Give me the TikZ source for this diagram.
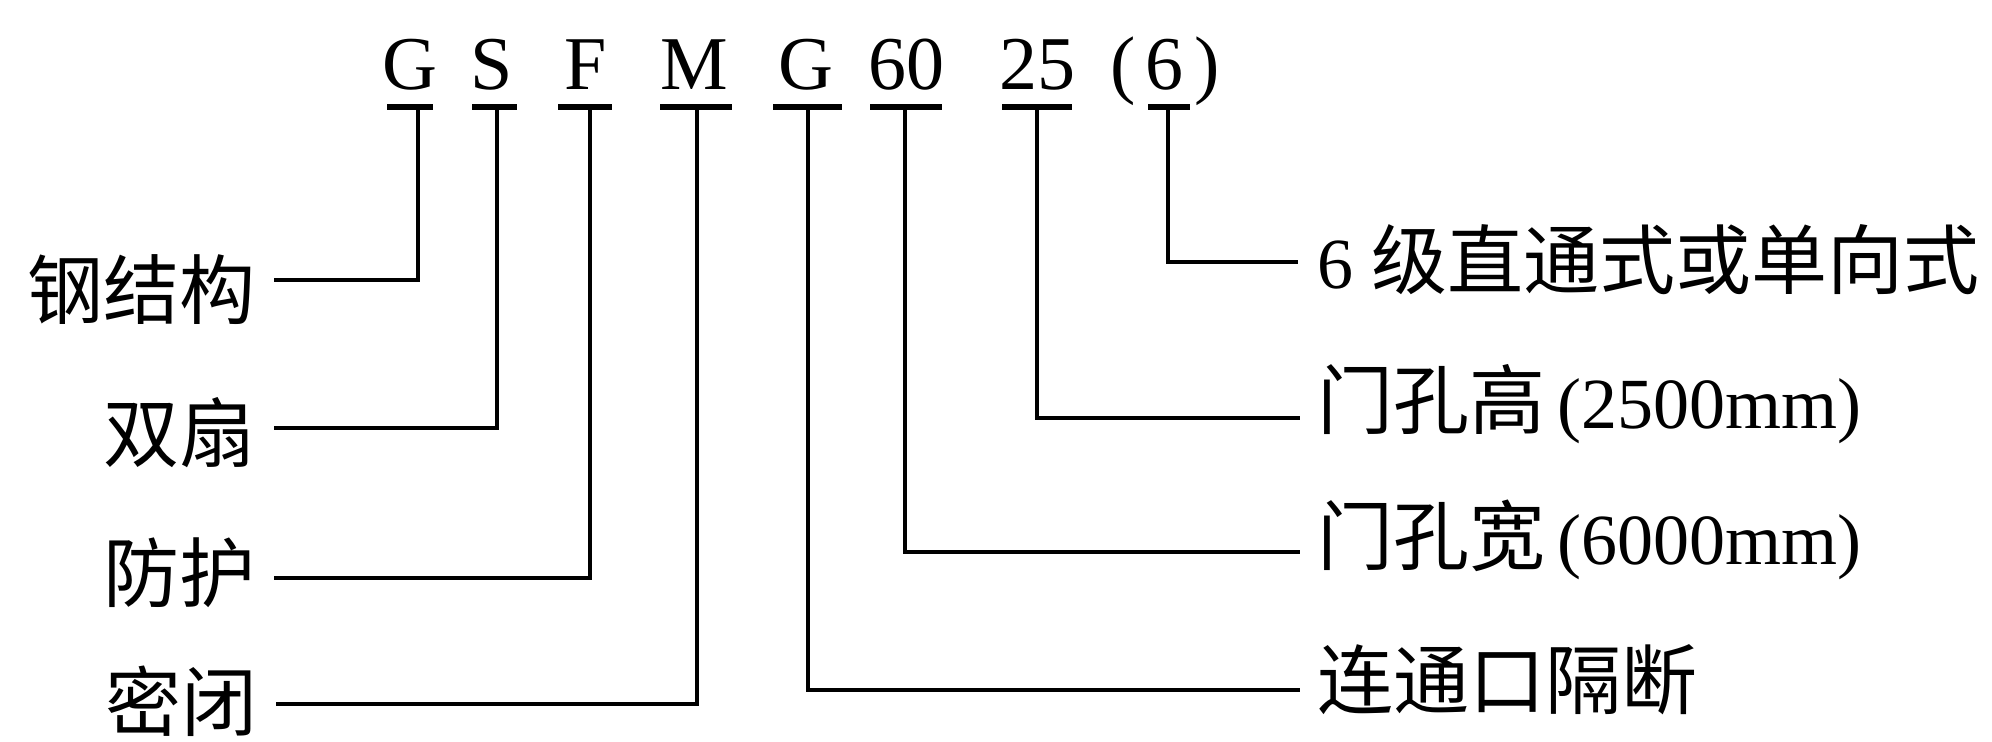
\documentclass[tikz,border=0pt]{standalone}
\usepackage{fontspec}
\setmainfont{Liberation Serif}
\newfontfamily\cjk{Noto Sans CJK SC}
\newcommand{\zh}[1]{{\cjk\fontsize{38}{44}\selectfont #1}}

\begin{document}
\begin{tikzpicture}[x=0.5pt,y=0.5pt,yscale=-1,xscale=1,
    codetxt/.style={anchor=base,inner sep=0pt,font=\fontsize{38}{44}\selectfont},
    labtxt/.style={inner sep=0pt,font=\cjk\fontsize{38}{44}\selectfont},
    numtxt/.style={inner sep=0pt,font=\fontsize{36}{42}\selectfont},
    stembar/.style={line width=2.6pt},
    leadline/.style={line width=2pt}]
    \useasboundingbox (0,0) rectangle (1992,742);

    % Code letters
    \node[codetxt] (cG) at (410,90) {G};
    \node[codetxt] (cS) at (492,90) {S};
    \node[codetxt] (cF) at (586,90) {F};
    \node[codetxt] (cM) at (694,90) {M};
    \node[codetxt] (cGg) at (806,90) {G};
    \node[codetxt] (cW) at (906,90) {60};
    \node[codetxt] (cH) at (1037,90) {25};
    \node[codetxt] (cL) at (1165,90) {(\kern5pt6\kern5pt)};

    % Bars under the letters
    \draw[stembar] (387,107) -- (433,107);
    \draw[stembar] (472,107) -- (517,107);
    \draw[stembar] (558,107) -- (612,107);
    \draw[stembar] (660,107) -- (732,107);
    \draw[stembar] (773,107) -- (842,107);
    \draw[stembar] (870,107) -- (942,107);
    \draw[stembar] (1002,107) -- (1072,107);
    \draw[stembar] (1148,107) -- (1190,107);

    % Stem tops
    \coordinate (sG) at (418,107);
    \coordinate (sS) at (497,107);
    \coordinate (sF) at (590,107);
    \coordinate (sM) at (697,107);
    \coordinate (sGg) at (808,107);
    \coordinate (sW) at (905,107);
    \coordinate (sH) at (1037,107);
    \coordinate (sL) at (1168,107);

    % Lead ends
    \coordinate (eSteel) at (274,280);
    \coordinate (eDouble) at (274,428);
    \coordinate (eProt) at (274,578);
    \coordinate (eSeal) at (276,704);
    \coordinate (eGrade) at (1298,262);
    \coordinate (eHigh) at (1300,418);
    \coordinate (eWide) at (1300,552);
    \coordinate (ePart) at (1300,690);

    % Text Node
    \node[labtxt,anchor=east] (lSteel) at (256,290) {钢结构};
    % Text Node
    \node[labtxt,anchor=east] (lDouble) at (256,433) {双扇};
    % Text Node
    \node[labtxt,anchor=east] (lProt) at (256,573) {防护};
    % Text Node
    \node[labtxt,anchor=east] (lSeal) at (258,701) {密闭};
    % Text Node
    \node[numtxt,anchor=west] (lGrade) at (1317,260) {6 \zh{级直通式或单向式}};
    % Text Node
    \node[numtxt,anchor=west] (lHigh) at (1317,404) {\zh{门孔高}\hspace{6pt}(2500mm)};
    % Text Node
    \node[numtxt,anchor=west] (lWide) at (1317,540) {\zh{门孔宽}\hspace{6pt}(6000mm)};
    % Text Node
    \node[labtxt,anchor=west] (lPart) at (1317,680) {连通口隔断};

    % Leads
    \draw[leadline] (sG) |- (eSteel);
    \draw[leadline] (sS) |- (eDouble);
    \draw[leadline] (sF) |- (eProt);
    \draw[leadline] (sM) |- (eSeal);
    \draw[leadline] (sGg) |- (ePart);
    \draw[leadline] (sW) |- (eWide);
    \draw[leadline] (sH) |- (eHigh);
    \draw[leadline] (sL) |- (eGrade);

\end{tikzpicture}
\end{document}
